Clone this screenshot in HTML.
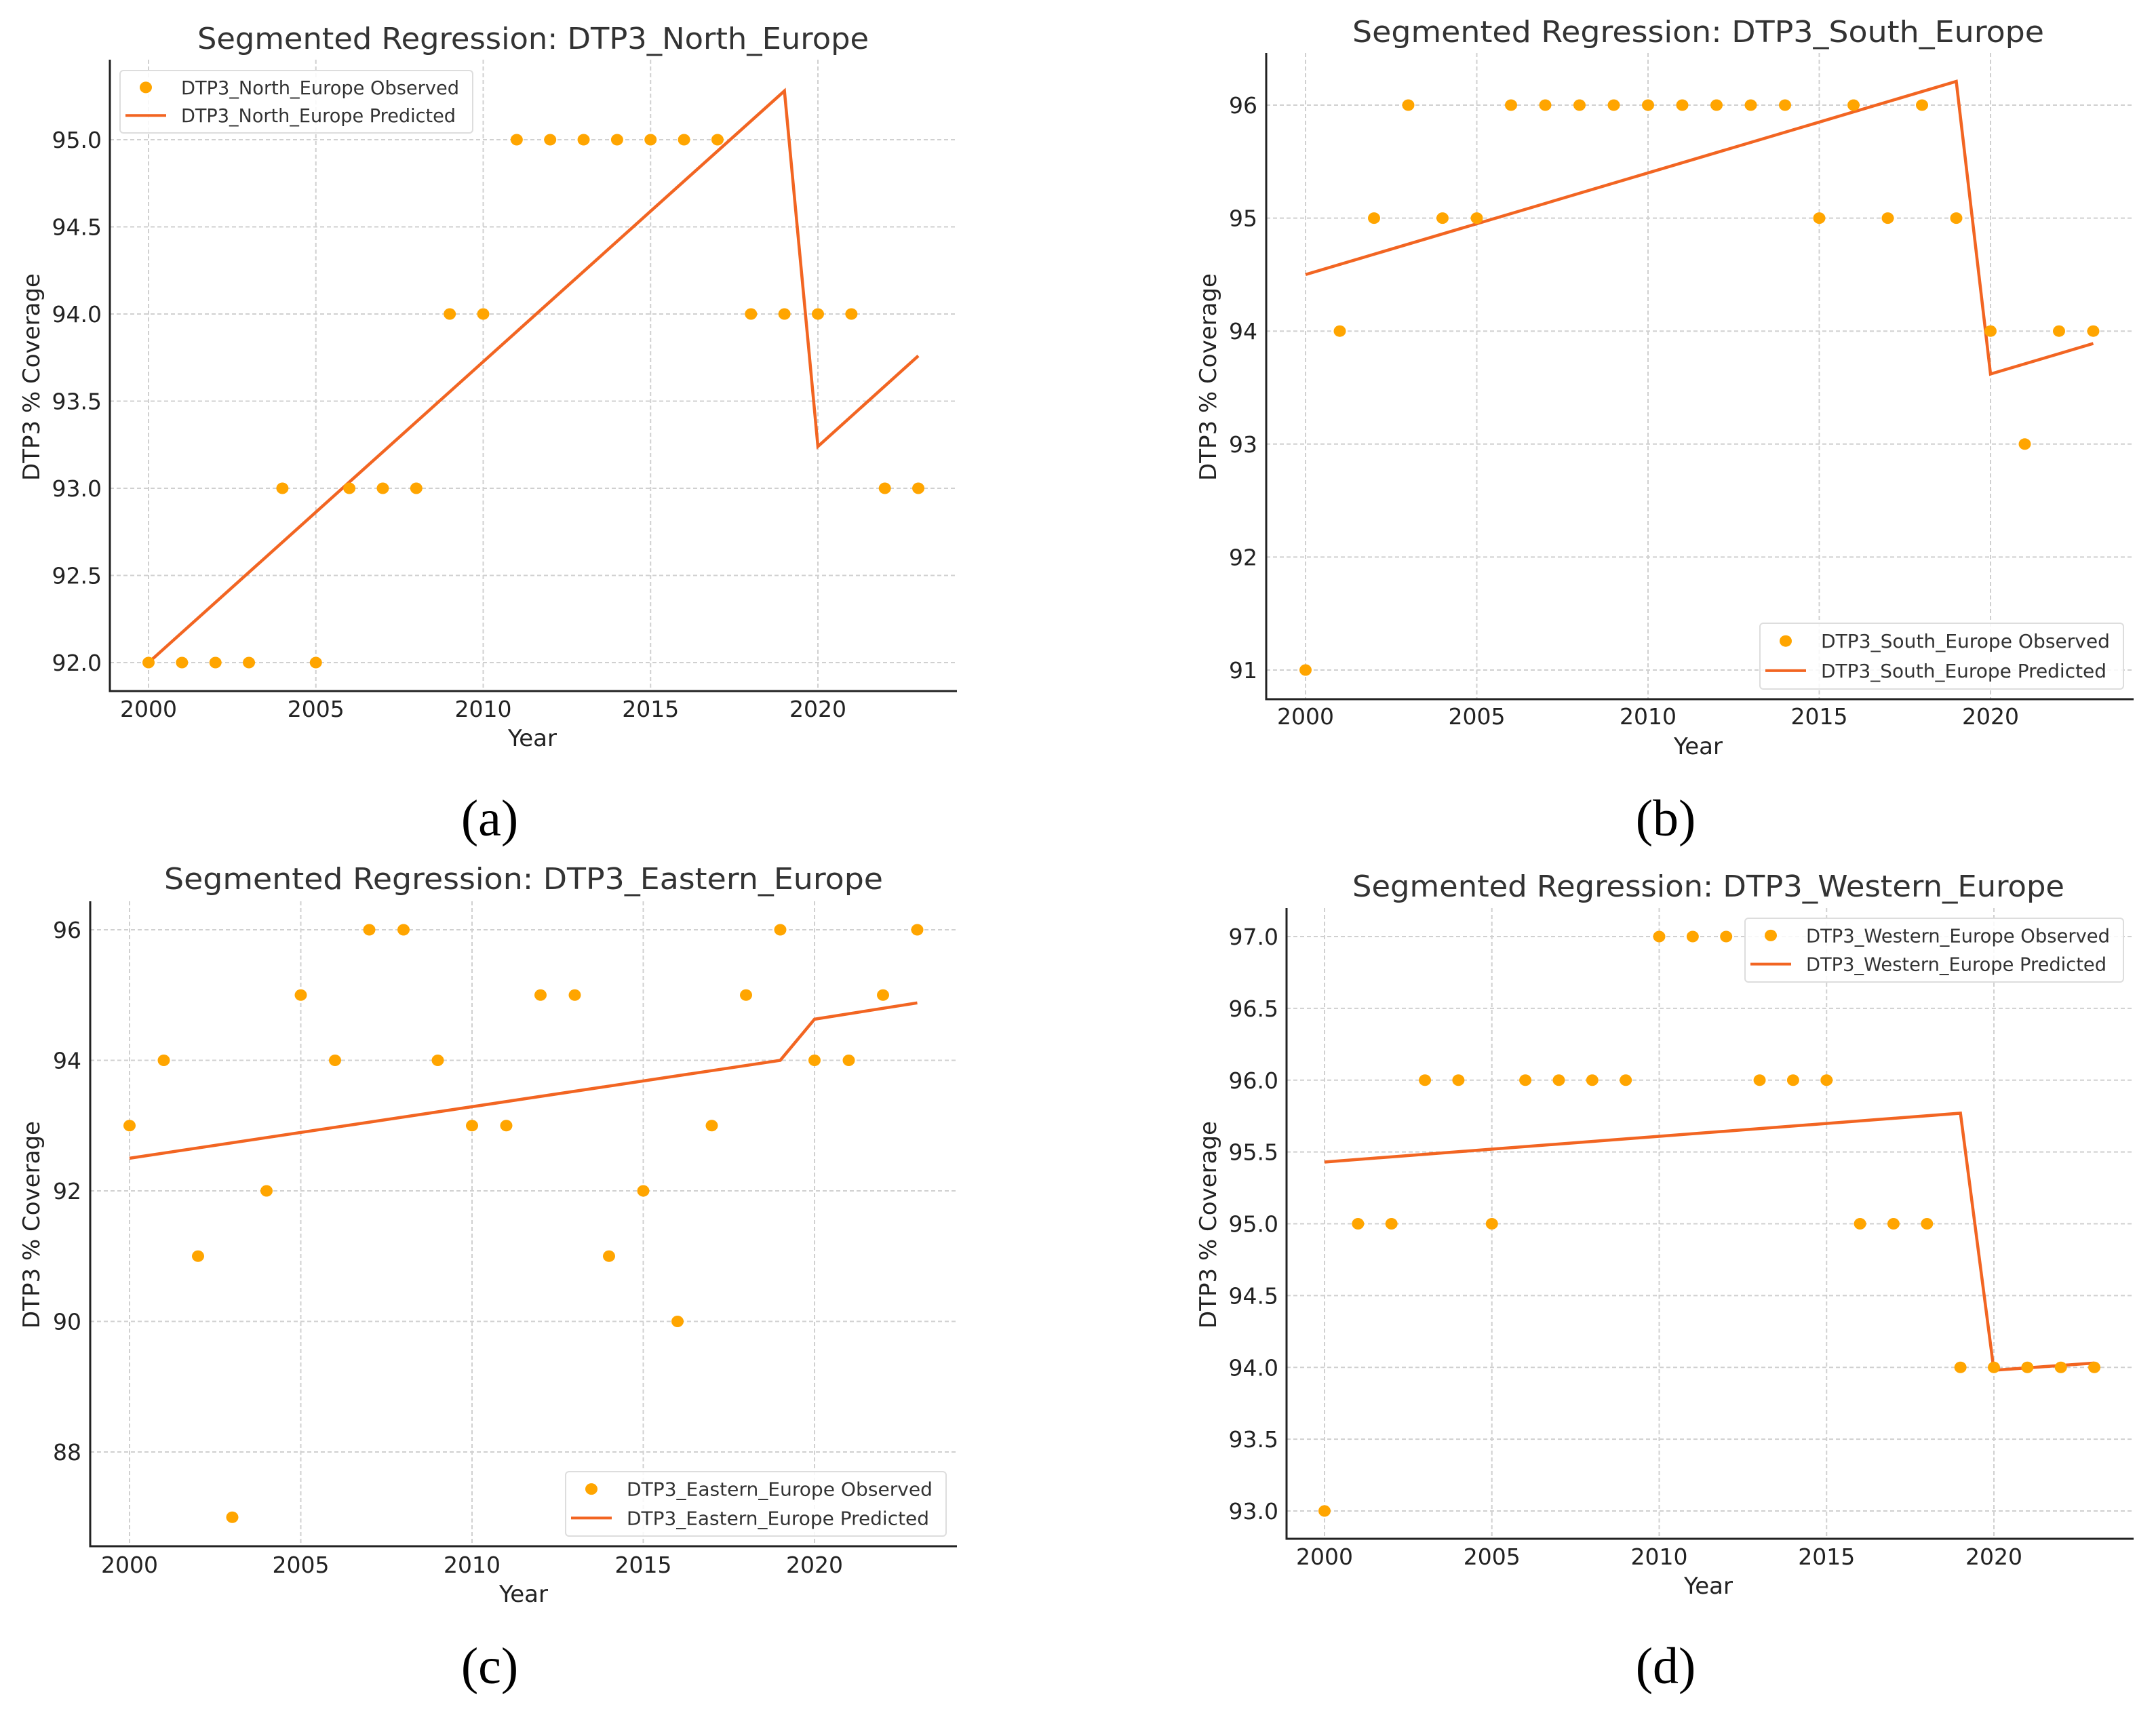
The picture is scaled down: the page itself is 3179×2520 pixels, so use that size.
<!DOCTYPE html>
<html><head><meta charset="utf-8"><style>
html,body{margin:0;padding:0;background:#fff}
svg{display:block}
</style></head><body>
<svg id="fig" width="3179" height="2520" viewBox="0 0 3179 2520" xmlns="http://www.w3.org/2000/svg" font-family="DejaVu Sans, Liberation Sans, sans-serif"></svg>
<script>
const years = [2000,2001,2002,2003,2004,2005,2006,2007,2008,2009,2010,2011,2012,2013,2014,2015,2016,2017,2018,2019,2020,2021,2022,2023];
const northObserved = [92,92,92,92,93,92,93,93,93,94,94,95,95,95,95,95,95,95,94,94,94,94,93,93];
const southObserved = [91,94,95,96,95,95,96,96,96,96,96,96,96,96,96,95,96,95,96,95,94,93,94,94];
const easternObserved = [93,94,91,87,92,95,94,96,96,94,93,93,95,95,91,92,90,93,95,96,94,94,95,96];
const westernObserved = [93,95,95,96,96,95,96,96,96,96,97,97,97,96,96,96,95,95,95,94,94,94,94,94];
const predYears = [2000,2019,2020,2023];
const northPredicted = [92.0,95.28,93.24,93.76];
const southPredicted = [94.5,96.21,93.62,93.89];
const easternPredicted = [92.5,94.0,94.63,94.88];
const westernPredicted = [95.43,95.77,93.98,94.03];
const xTicks = [2000,2005,2010,2015,2020];
const northYTicks = [92,92.5,93,93.5,94,94.5,95];
const southYTicks = [91,92,93,94,95,96];
const easternYTicks = [88,90,92,94,96];
const westernYTicks = [93,93.5,94,94.5,95,95.5,96,96.5,97];

const NS='http://www.w3.org/2000/svg';
const svg=document.getElementById('fig');
function mk(tag,attrs,parent){const e=document.createElementNS(NS,tag);for(const k in attrs)e.setAttribute(k,attrs[k]);(parent||svg).appendChild(e);return e;}

function panel(cfg){
  const g=mk('g',{});
  
  
  const xs=v=>cfg.x0p+(v-cfg.x0v)*(cfg.x1p-cfg.x0p)/(cfg.x1v-cfg.x0v);
  const ys=v=>cfg.y0p+(v-cfg.y0v)*(cfg.y1p-cfg.y0p)/(cfg.y1v-cfg.y0v);
  xTicks.forEach(t=>{
    const l=mk('line',{x1:xs(t),x2:xs(t),y1:cfg.top,y2:cfg.bottom,stroke:'#d0d0d0','stroke-width':2,'stroke-dasharray':'6,4'},g);
    
    
    const tx=mk('text',{x:xs(t),y:cfg.xtickY,'font-size':33,'text-anchor':'middle',fill:'#222'},g);
    tx.textContent=t;
    
    
  });
  cfg.yTicks.forEach(t=>{
    const l=mk('line',{x1:cfg.left,x2:cfg.right,y1:ys(t),y2:ys(t),stroke:'#d0d0d0','stroke-width':2,'stroke-dasharray':'6,4'},g);
    
    
    const tx=mk('text',{x:cfg.ytickX,y:ys(t)+12,'font-size':33,'text-anchor':'end',fill:'#222'},g);
    tx.textContent=cfg.dec?t.toFixed(1):String(t);
    
    
  });
  const sp=mk('path',{d:`M${cfg.left},${cfg.top}V${cfg.bottom}H${cfg.right}`,fill:'none',stroke:'#222','stroke-width':3},g);
  
  
  const pts=predYears.map((y,i)=>xs(y)+','+ys(cfg.pred[i])).join(' ');
  const pl=mk('polyline',{points:pts,fill:'none',stroke:'#F26522','stroke-width':4.5},g);
  
  
  years.forEach((y,i)=>{
    const c=mk('ellipse',{cx:xs(y),cy:ys(cfg.obs[i]),rx:9,ry:8.5,fill:'#FFA500'},g);
    
    
  });
  const ti=mk('text',{x:cfg.titleX,y:cfg.titleY,'font-size':44,'text-anchor':'middle',fill:'#333',textLength:cfg.titleW,lengthAdjust:'spacingAndGlyphs'},g);
  ti.textContent='Segmented Regression: '+cfg.name;
  
  
  const xl=mk('text',{x:cfg.xlabX,y:cfg.xlabY,'font-size':34,'text-anchor':'middle',fill:'#222'},g);
  xl.textContent='Year';
  
  
  const yl=mk('text',{x:0,y:0,'font-size':34,'text-anchor':'middle',fill:'#222',transform:`translate(${cfg.ylabX},${cfg.ylabY}) rotate(-90)`},g);
  yl.textContent='DTP3 % Coverage';
  
  
  const L=cfg.leg;
  const lg=mk('g',{},g);
  
  
  mk('rect',{x:L.x,y:L.y,width:L.w,height:L.h,rx:5,fill:'#fff','fill-opacity':0.85,stroke:'#ddd','stroke-width':2},lg);
  const r1=L.y+L.h*0.27, r2=L.y+L.h*0.72;
  const lm=mk('ellipse',{cx:L.x+38,cy:r1,rx:9,ry:8.5,fill:'#FFA500'},lg);
  
  
  const ll=mk('line',{x1:L.x+8,x2:L.x+68,y1:r2,y2:r2,stroke:'#F26522','stroke-width':4},lg);
  
  
  const tw=L.w-110;
  const t1=mk('text',{x:L.x+90,y:r1+10,'font-size':28,fill:'#333',textLength:tw,lengthAdjust:'spacingAndGlyphs'},lg);
  t1.textContent=cfg.name+' Observed';
  
  
  const t2=mk('text',{x:L.x+90,y:r2+10,'font-size':28,fill:'#333',textLength:tw-5,lengthAdjust:'spacingAndGlyphs'},lg);
  t2.textContent=cfg.name+' Predicted';
  
  
  const cp=mk('text',{x:cfg.capX,y:cfg.capY,'font-size':76,'text-anchor':'middle',fill:'#000','font-family':'Liberation Serif, serif'},g);
  cp.textContent=cfg.cap;
  
  
}

panel({key:'north',name:'DTP3_North_Europe',obs:northObserved,pred:northPredicted,yTicks:northYTicks,dec:true,
  left:162,right:1411,top:88,bottom:1019,x0v:2000,x0p:219,x1v:2020,x1p:1206,y0v:92,y0p:977,y1v:95,y1p:206,
  xtickY:1057,ytickX:150,titleX:786,titleY:72,titleW:990,xlabX:785,xlabY:1100,ylabX:58,ylabY:556,
  leg:{x:177,y:104,w:520,h:92},cap:'(a)',capX:722,capY:1232});
panel({key:'south',name:'DTP3_South_Europe',obs:southObserved,pred:southPredicted,yTicks:southYTicks,dec:false,
  left:1867,right:3146,top:78,bottom:1031,x0v:2000,x0p:1925,x1v:2020,x1p:2935,y0v:91,y0p:988,y1v:96,y1p:155,
  xtickY:1068,ytickX:1854,titleX:2504,titleY:62,titleW:1020,xlabX:2504,xlabY:1112,ylabX:1793,ylabY:556,
  leg:{x:2595,y:919,w:536,h:97},cap:'(b)',capX:2456,capY:1232});
panel({key:'eastern',name:'DTP3_Eastern_Europe',obs:easternObserved,pred:easternPredicted,yTicks:easternYTicks,dec:false,
  left:133,right:1411,top:1329,bottom:2280,x0v:2000,x0p:191,x1v:2020,x1p:1201,y0v:88,y0p:2141,y1v:96,y1p:1371,
  xtickY:2319,ytickX:120,titleX:772,titleY:1311,titleW:1060,xlabX:772,xlabY:2362,ylabX:58,ylabY:1806,
  leg:{x:834,y:2170,w:561,h:95},cap:'(c)',capX:722,capY:2482});
panel({key:'western',name:'DTP3_Western_Europe',obs:westernObserved,pred:westernPredicted,yTicks:westernYTicks,dec:true,
  left:1897,right:3146,top:1339,bottom:2269,x0v:2000,x0p:1953,x1v:2020,x1p:2940,y0v:93,y0p:2228,y1v:97,y1p:1381,
  xtickY:2307,ytickX:1885,titleX:2519,titleY:1322,titleW:1050,xlabX:2519,xlabY:2350,ylabX:1793,ylabY:1806,
  leg:{x:2573,y:1354,w:558,h:94},cap:'(d)',capX:2456,capY:2482});
</script>
</body></html>
